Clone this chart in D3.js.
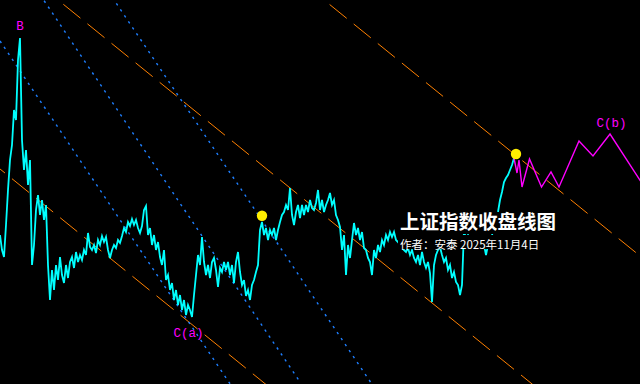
<!DOCTYPE html>
<html><head><meta charset="utf-8">
<script src="https://cdn.jsdelivr.net/npm/d3@7/dist/d3.min.js"></script>
<style>html,body{margin:0;padding:0;background:#000;}svg{display:block;}</style>
</head><body>
<div id="chart"></div>
<script>
// 上证指数 weekly closes (sampled every 2 weeks)
const closes = [3150,3000,2930,3250,3600,3900,4050,4400,4300,4900,5120,4100,3800,4000,3650,3900,2850,3050,3400,3550,
3350,3500,3300,3450,2850,2500,2800,2600,2850,2700,2930,2750,2670,2850,2720,2880,2930,2820,2980,2880,
2950,2900,3000,2950,3170,3030,3000,3050,2970,3100,3050,3140,3080,3130,3000,2920,3000,3050,3020,3100,
3070,3140,3220,3180,3280,3240,3310,3250,3300,3220,3170,3240,3400,3440,3150,3220,3050,3150,3000,3080,
2930,2850,3000,2700,2750,2600,2670,2500,2600,2450,2550,2400,2500,2350,2450,2400,2330,2550,2750,2950,
2850,3130,2880,2750,2850,2720,2880,2920,2800,2630,2820,2780,2880,2800,2880,2750,2850,2670,2880,2980,
2780,2650,2700,2540,2600,2500,2650,2700,2780,2850,3200,3280,3150,3220,3100,3200,3150,3220,3100,3200,
3280,3350,3380,3450,3400,3620,3350,3250,3380,3450,3320,3450,3350,3450,3380,3500,3420,3400,3470,3600,
3400,3500,3380,3450,3500,3570,3450,3500,3350,3300,3230,3000,3150,2750,3050,2920,3100,3270,3150,3220,
3100,3180,3020,3000,2920,2880,2750,3000,2920,3050,2980,3100,3050,3150,3100,3180,3130,3180,3100,3080,
3050,3020,3000,2980,3020,2950,3000,2920,2880,2950,2850,2980,2880,2820,2880,2770,2480,2850,2950,3000,
3030,2950,2880,2920,2800,2850,2720,2780,2680,2650,2550,2650,3200,3100,3150,3080,3120,3050,3100,3070,
3120,3080,3050,2950,3050,3100,3150,3220,3280,3380,3500,3580,3680,3720,3750,3800,3850,3920];
const weeks = closes.map((d, i) => i * 2);

// projected wave path (magenta)
const projWeeks  = [514, 517, 519, 522, 529.5, 541.5, 551, 559, 579, 593, 610, 645];
const projValues = [3920, 3770, 3900, 3630, 3910, 3630, 3780, 3630, 4090, 3940, 4160, 3620];

// highlighted points (yellow)
const dotWeeks  = [262, 516];
const dotValues = [3343, 3960];

// wave labels
const labelTexts  = ["B", "C(a)", "C(b)"];
const labelWeeks  = [20, 188.5, 611.5];
const labelValues = [5200, 2130, 4230];

// channel lines (orange dashed), endpoints [week, value]
const orangeLines = [
  [[0, 8125], [700, 2455]],
  [[0, 5970], [700, 300]],
  [[0, 3810], [700, -1860]]
];
const orangeOffsets = [9.8, 11.5, 15.6];
// fan lines (blue dotted)
const blueLines = [
  [[0, 5090], [300, 620]],
  [[0, 6150], [300, 1680]],
  [[0, 7200], [400, 1240]]
];

const title = "上证指数收盘线图";
const subtitle = "作者：安泰 2025年11月4日";

const W = 640, H = 384;
const svg = d3.select("#chart").append("svg").attr("width", W).attr("height", H)
  .style("background", "#000");
svg.append("rect").attr("width", W).attr("height", H).attr("fill", "#000");

const x = d3.scaleLinear().domain([0, 640]).range([0, 640]);
const y = d3.scaleLinear().domain([1660, 5500]).range([384, 0]);

svg.append("clipPath").attr("id", "clip").append("rect").attr("width", W).attr("height", H);
const g = svg.append("g").attr("clip-path", "url(#clip)");

const seg = d3.line().x(d => x(d[0])).y(d => y(d[1]));

g.selectAll(".ol").data(orangeLines).join("path")
  .attr("d", seg).attr("fill", "none").attr("stroke", "#ff8000").attr("stroke-width", 1)
  .attr("stroke-dasharray", "22 9").attr("stroke-dashoffset", (d, i) => orangeOffsets[i]);

g.selectAll(".bl").data(blueLines).join("path")
  .attr("d", seg).attr("fill", "none").attr("stroke", "#1e7fff").attr("stroke-width", 1.4)
  .attr("stroke-dasharray", "2.4 4.8");

const closeLine = d3.line().x((d, i) => x(weeks[i])).y(d => y(d));
g.append("path").datum(closes).attr("d", closeLine)
  .attr("fill", "none").attr("stroke", "#00ffff").attr("stroke-width", 1.8);

const projLine = d3.line().x((d, i) => x(projWeeks[i])).y(d => y(d));
g.append("path").datum(projValues).attr("d", projLine)
  .attr("fill", "none").attr("stroke", "#ff00ff").attr("stroke-width", 1.4);

g.selectAll(".dot").data(dotValues).join("circle")
  .attr("cx", (d, i) => x(dotWeeks[i])).attr("cy", d => y(d)).attr("r", 5.2)
  .attr("fill", "#ffee00");

g.selectAll(".lbl").data(labelTexts).join("text")
  .attr("x", (d, i) => x(labelWeeks[i])).attr("y", (d, i) => y(labelValues[i]))
  .attr("text-anchor", "middle").attr("fill", "#ff00ff")
  .attr("font-family", "'Liberation Mono', 'DejaVu Sans Mono', monospace").attr("font-size", 12.5)
  .text(d => d);

// title block with black backing
svg.append("rect").attr("x", 398).attr("y", 212).attr("width", 160).attr("height", 22).attr("fill", "#000");
svg.append("rect").attr("x", 398).attr("y", 235).attr("width", 146).attr("height", 14).attr("fill", "#000");
svg.append("text").attr("x", 400).attr("y", 229)
  .attr("fill", "#fff").attr("font-family", "'Noto Sans CJK SC', sans-serif")
  .attr("font-size", 19.5).attr("font-weight", "bold").text(title);
svg.append("text").attr("x", 400).attr("y", 248.5)
  .attr("fill", "#fff").attr("font-family", "'Noto Sans CJK SC', sans-serif")
  .attr("font-size", 11.5).text(subtitle);
</script>
</body></html>
